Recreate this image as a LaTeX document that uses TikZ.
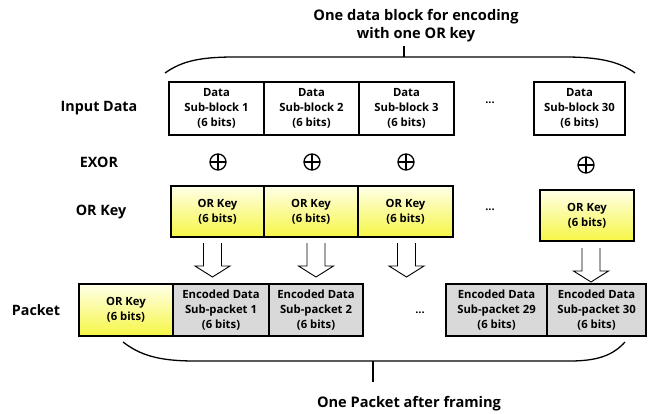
\documentclass[tikz,border=0pt]{standalone}
\usepackage{fontspec}
\setmainfont{Open Sans}[BoldFont=* Bold]
\usetikzlibrary{positioning,calc}
\definecolor{keytop}{HTML}{FFFFE8}
\definecolor{keybot}{HTML}{F6F645}
\definecolor{encfill}{HTML}{D9D9D9}
\tikzset{
  every node/.style={font=\bfseries},
  blk/.style={draw,line width=1.3pt,outer sep=0pt,inner sep=0pt,align=center,
    font=\fontsize{11.3}{15}\selectfont\bfseries,minimum width=95pt,minimum height=53pt},
  keyblk/.style={blk,top color=keytop,bottom color=keybot,minimum height=51pt},
  encblk/.style={blk,fill=encfill,minimum height=52pt},
  rowlabel/.style={font=\fontsize{14.3}{17}\selectfont\bfseries},
  caption/.style={font=\fontsize{14.6}{18}\selectfont\bfseries,align=center},
  dots/.style={font=\fontsize{11}{12}\selectfont\bfseries},
  xorop/.style={circle,draw,line width=1.3pt,minimum size=16pt,inner sep=0pt,
    path picture={\draw[line width=1.3pt] (path picture bounding box.north) -- (path picture bounding box.south)
      (path picture bounding box.west) -- (path picture bounding box.east);}},
  brace/.style={line width=1.3pt},
  hollow/.pic={\draw[line width=0.9pt,fill=white] (-9,0) -- (-9,23) -- (-17.5,23) -- (0,34) -- (17.5,23) -- (9,23) -- (9,0);},
}

\begin{document}
\begin{tikzpicture}[x=1pt,y=-1pt]
\useasboundingbox (0,0) rectangle (655,414);

% row labels
\node[rowlabel] (lin) at (99,108) {Input Data};
\node[rowlabel] (lxor) at (99,162) {EXOR};
\node[rowlabel] (lkey) at (101,212) {OR Key};
\node[rowlabel] (lpkt) at (36,310) {Packet};

% input data sub-blocks
\node[blk,anchor=north west] (d1) at (169,82) {Data\\Sub-block 1\\(6 bits)};
\node[blk,right=0pt of d1] (d2) {Data\\Sub-block 2\\(6 bits)};
\node[blk,right=0pt of d2] (d3) {Data\\Sub-block 3\\(6 bits)};
\node[dots] (ddots) at (490,103) {...};
\node[blk,anchor=north west,minimum width=91pt] (d30) at (534,82) {Data\\Sub-block 30\\(6 bits)};

% exor operators
\node[xorop] (x1) at (218,162) {};
\node[xorop] (x2) at (312,162) {};
\node[xorop] (x3) at (406,162) {};
\node[xorop] (x30) at (586,165) {};

% OR keys
\node[keyblk,anchor=north west,minimum width=93pt] (k1) at (171,186) {OR Key\\(6 bits)};
\node[keyblk,right=0pt of k1,minimum width=94pt] (k2) {OR Key\\(6 bits)};
\node[keyblk,right=0pt of k2] (k3) {OR Key\\(6 bits)};
\node[dots] (kdots) at (490,210) {...};
\node[keyblk,anchor=north west,minimum width=94pt] (k30) at (540,190) {OR Key\\(6 bits)};

% hollow arrows
\pic at ($(k1.south)+(-5,6)$) {hollow};
\pic at ($(k2.south)+(5,6)$) {hollow};
\pic at ($(k3.south)+(1,6)$) {hollow};
\pic at ($(k30.south)+(4,7)$) {hollow};

% packet
\node[keyblk,anchor=north west,minimum width=94pt,minimum height=52pt] (p0) at (79,284) {OR Key\\(6 bits)};
\node[encblk,right=0pt of p0,minimum width=96pt] (p1) {Encoded Data\\Sub-packet 1\\(6 bits)};
\node[encblk,right=0pt of p1,minimum width=94pt] (p2) {Encoded Data\\Sub-packet 2\\(6 bits)};
\node[dots] (pdots) at (420,313) {...};
\node[encblk,anchor=north west,minimum width=101pt] (p29) at (446,284) {Encoded Data\\Sub-packet 29\\(6 bits)};
\node[encblk,right=0pt of p29,minimum width=99pt] (p30) {Encoded Data\\Sub-packet 30\\(6 bits)};

% top brace
\node[caption] (top) at (416,26) {One data block for encoding\\with one OR key};
\coordinate (tb) at (404,57);
\draw[brace] (165,73) .. controls (182,61) and (200,57) .. (235,57) -- (565,57) .. controls (600,57) and (620,62) .. (635,73);
\draw[brace] (tb) -- (top.south -| tb);

% bottom brace
\node[caption] (bot) at (409,404) {One Packet after framing};
\coordinate (bb) at (373,361);
\draw[brace] (123,342) .. controls (140,355) and (158,361) .. (195,361) -- (570,361) .. controls (600,361) and (614,354) .. (625,342);
\draw[brace] (bb) -- ++(0,21);
\end{tikzpicture}
\end{document}
